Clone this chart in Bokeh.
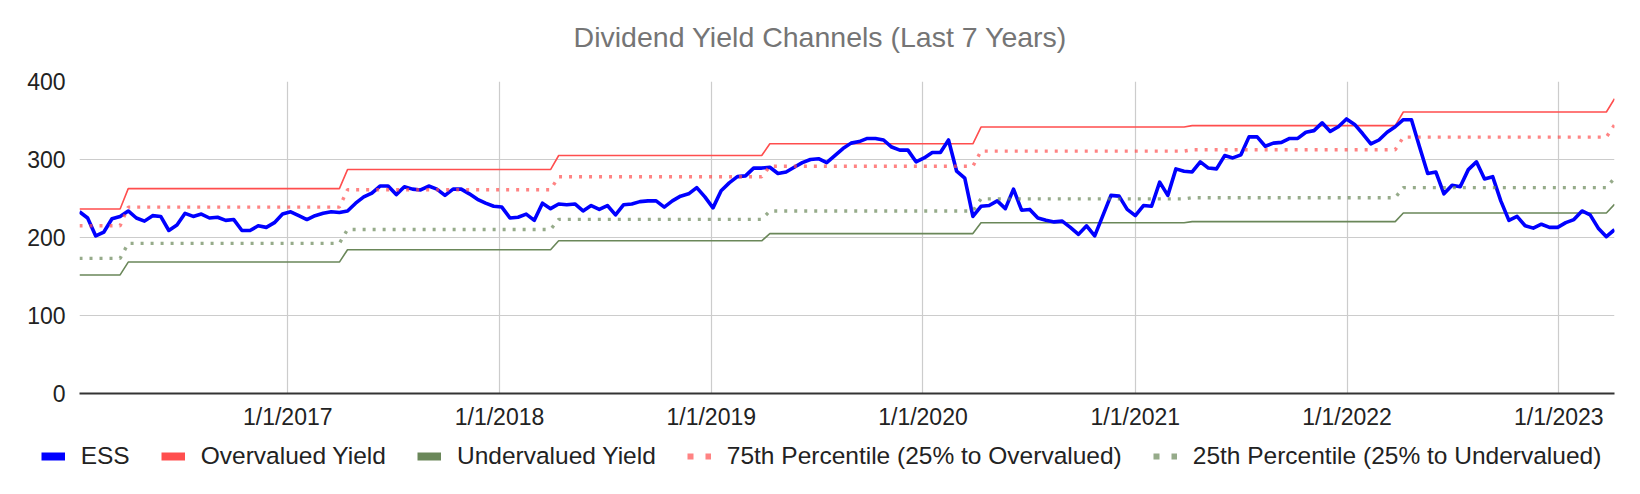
import numpy as np
import pandas as pd
from bokeh.plotting import figure
from bokeh.layouts import column, row
from bokeh.models import Range1d, FixedTicker, Legend, LegendItem
from bokeh.core.properties import value
from bokeh.embed import file_html
from bokeh.resources import INLINE

# ---- data ----
ess = [233, 225, 202, 207, 224, 227, 234, 225, 221, 228, 227, 209, 216, 231, 227, 230, 225, 226, 222, 223,
       209, 209, 215, 213, 219, 230, 233, 228, 223, 228, 231, 233, 232,
       234, 244, 252, 257, 266, 266, 255, 265, 262, 261, 266, 262, 254, 262, 262, 256, 249, 244, 240, 239,
       225, 226, 230, 222, 244, 237, 243, 242, 243, 234, 241, 236,
       241, 229, 242, 243, 246, 247, 247, 239, 247, 253, 256, 264, 252, 238, 260, 270, 278, 279, 289, 289,
       290, 282, 284, 290, 296, 300, 301, 296, 305, 314, 321, 323,
       327, 327, 325, 316, 312, 312, 297, 302, 309, 309, 325, 285, 276, 227, 240, 241, 247, 237, 262, 235,
       236, 225, 222, 220, 221, 213, 204, 215, 202, 228, 254, 253,
       236, 228, 241, 240, 271, 254, 288, 285, 284, 297, 289, 288, 305, 302, 306, 329, 329, 317, 321, 322,
       327, 327, 335, 337, 347, 336, 342, 352, 345, 333, 320, 325,
       335, 342, 351, 351, 316, 282, 284, 256, 267, 265, 287, 297, 275, 278, 247, 222, 227, 215, 212, 217,
       213, 213, 219, 223, 234, 229, 212, 201, 210]
first_date = "2016-01-08"   # biweekly observations

step_dates = ["2016-01-08", "2016-04-01", "2017-04-14", "2018-04-13", "2019-04-12",
              "2020-04-10", "2021-04-09", "2022-04-08", "2023-04-07"]
overvalued = [236.6, 262.7, 287.1, 305.1, 320.1, 341.6, 343.4, 360.9, 378.0]
undervalued = [152.0, 168.5, 184.3, 195.8, 205.0, 219.0, 220.3, 231.5, 242.5]
pct75 = [215.0, 239.0, 261.3, 277.8, 291.3, 310.8, 312.5, 328.7, 344.5]
pct25 = [173.3, 192.5, 210.3, 223.2, 234.0, 249.5, 251.0, 264.0, 276.0]

title_text = "Dividend Yield Channels (Last 7 Years)"
series_names = ["ESS", "Overvalued Yield", "Undervalued Yield",
                "75th Percentile (25% to Overvalued)", "25th Percentile (25% to Undervalued)"]
x_tick_dates = ["2017-01-01", "2018-01-01", "2019-01-01", "2020-01-01",
                "2021-01-01", "2022-01-01", "2023-01-01"]
x_tick_labels = ["1/1/2017", "1/1/2018", "1/1/2019", "1/1/2020",
                 "1/1/2021", "1/1/2022", "1/1/2023"]
y_ticks = [0, 100, 200, 300, 400]

# ---- build table ----
dates = pd.date_range(first_date, periods=len(ess), freq="14D")
lvl = np.searchsorted(pd.to_datetime(step_dates).values, dates.values, side="right") - 1
over_s = np.array(overvalued)[lvl]
under_s = np.array(undervalued)[lvl]
p75_s = np.array(pct75)[lvl]
p25_s = np.array(pct25)[lvl]

FONT = "Liberation Sans"
W = 1624
FL, FR = 79, 1614          # frame left / right in page pixels
RED = "#ff4e4e"
GREEN = "#6a8759"
BLUE = "#0000ff"

# ---- title strip (its frame is aligned with the chart frame by the column) ----
TH = 60
pt = figure(width=W, height=TH, output_backend="svg", toolbar_location=None,
            x_range=Range1d(FL, FR), y_range=Range1d(TH, 0),
            x_axis_location=None, y_axis_location=None,
            min_border_left=FL, min_border_right=W - FR, min_border_top=0, min_border_bottom=0)
pt.outline_line_color = None
pt.grid.visible = False
pt.text(x=[820], y=[36], text=[title_text], text_align="center", text_baseline="middle",
        text_font=value(FONT), text_font_size="28.5px", text_color="#757575")

# ---- main chart ----
MH = 375
FB = 392.7 - TH
p = figure(width=W, height=MH, x_axis_type="datetime", output_backend="svg", toolbar_location=None,
           x_range=Range1d(dates[0], dates[-1]), y_range=Range1d(0, 400),
           min_border_left=FL, min_border_right=W - FR, min_border_top=81 - TH,
           min_border_bottom=int(round(MH - FB)))
p.outline_line_color = None
p.background_fill_color = "white"

tick_ms = [int(pd.Timestamp(d).value // 10**6) for d in x_tick_dates]
p.xaxis.ticker = FixedTicker(ticks=tick_ms)
p.xaxis.major_label_overrides = {t: l for t, l in zip(tick_ms, x_tick_labels)}
p.xgrid.ticker = FixedTicker(ticks=tick_ms)
p.yaxis.ticker = FixedTicker(ticks=y_ticks)
p.ygrid.ticker = FixedTicker(ticks=y_ticks)

for ax in (p.xaxis[0], p.yaxis[0]):
    ax.major_tick_line_color = None
    ax.minor_tick_line_color = None
    ax.major_tick_out = 0
    ax.major_tick_in = 0
    ax.minor_tick_out = 0
    ax.major_label_text_font = FONT
    ax.major_label_text_font_size = "23px"
    ax.major_label_text_color = "#222222"
p.yaxis.axis_line_color = None
p.yaxis.major_label_standoff = 14
p.xaxis.axis_line_color = "#333333"
p.xaxis.axis_line_width = 2
p.xaxis.major_label_standoff = 10

for g in (p.xgrid[0], p.ygrid[0]):
    g.grid_line_color = "#cccccc"
    g.grid_line_width = 1.2

p.line(dates, over_s, line_color=RED, line_width=1.6)
p.line(dates, under_s, line_color=GREEN, line_width=1.6)
p.line(dates, ess, line_color=BLUE, line_width=3.6, line_join="round")
p.line(dates, p75_s, line_color=RED, line_alpha=0.7, line_width=3.4, line_dash="3 7")
p.line(dates, p25_s, line_color=GREEN, line_alpha=0.7, line_width=3.4, line_dash="3 7")

# ---- legend strip (wrapped in its own row so its frame spans the whole strip) ----
LH = 478 - TH - MH
pl = figure(width=W, height=LH, output_backend="svg", toolbar_location=None,
            x_range=Range1d(0, 1), y_range=Range1d(0, 1),
            x_axis_location=None, y_axis_location=None, min_border=0)
pl.outline_line_color = None
pl.grid.visible = False
off = [-5, -4]
l_ess = pl.line(off, off, line_color=BLUE, line_width=8)
l_over = pl.line(off, off, line_color=RED, line_width=8)
l_under = pl.line(off, off, line_color=GREEN, line_width=8)
l_75 = pl.line(off, off, line_color=RED, line_alpha=0.7, line_width=6, line_dash="6 12")
l_25 = pl.line(off, off, line_color=GREEN, line_alpha=0.7, line_width=6, line_dash="6 12")
rends = [l_ess, l_over, l_under, l_75, l_25]
legend_bottom = 456.7 + 13 - (TH + MH)
legend = Legend(items=[LegendItem(label=n, renderers=[r]) for n, r in zip(series_names, rends)],
                orientation="horizontal", location=(40.7, LH - legend_bottom),
                glyph_width=24, glyph_height=26, label_height=26, label_standoff=16, spacing=31,
                padding=0, margin=0, border_line_alpha=0, background_fill_alpha=0,
                label_text_font=FONT, label_text_font_size="24.5px", label_text_color="#222222")
pl.add_layout(legend)

layout = column(pt, p, row(pl, spacing=0), spacing=0)
open("out.html", "w").write(file_html(layout, INLINE))
